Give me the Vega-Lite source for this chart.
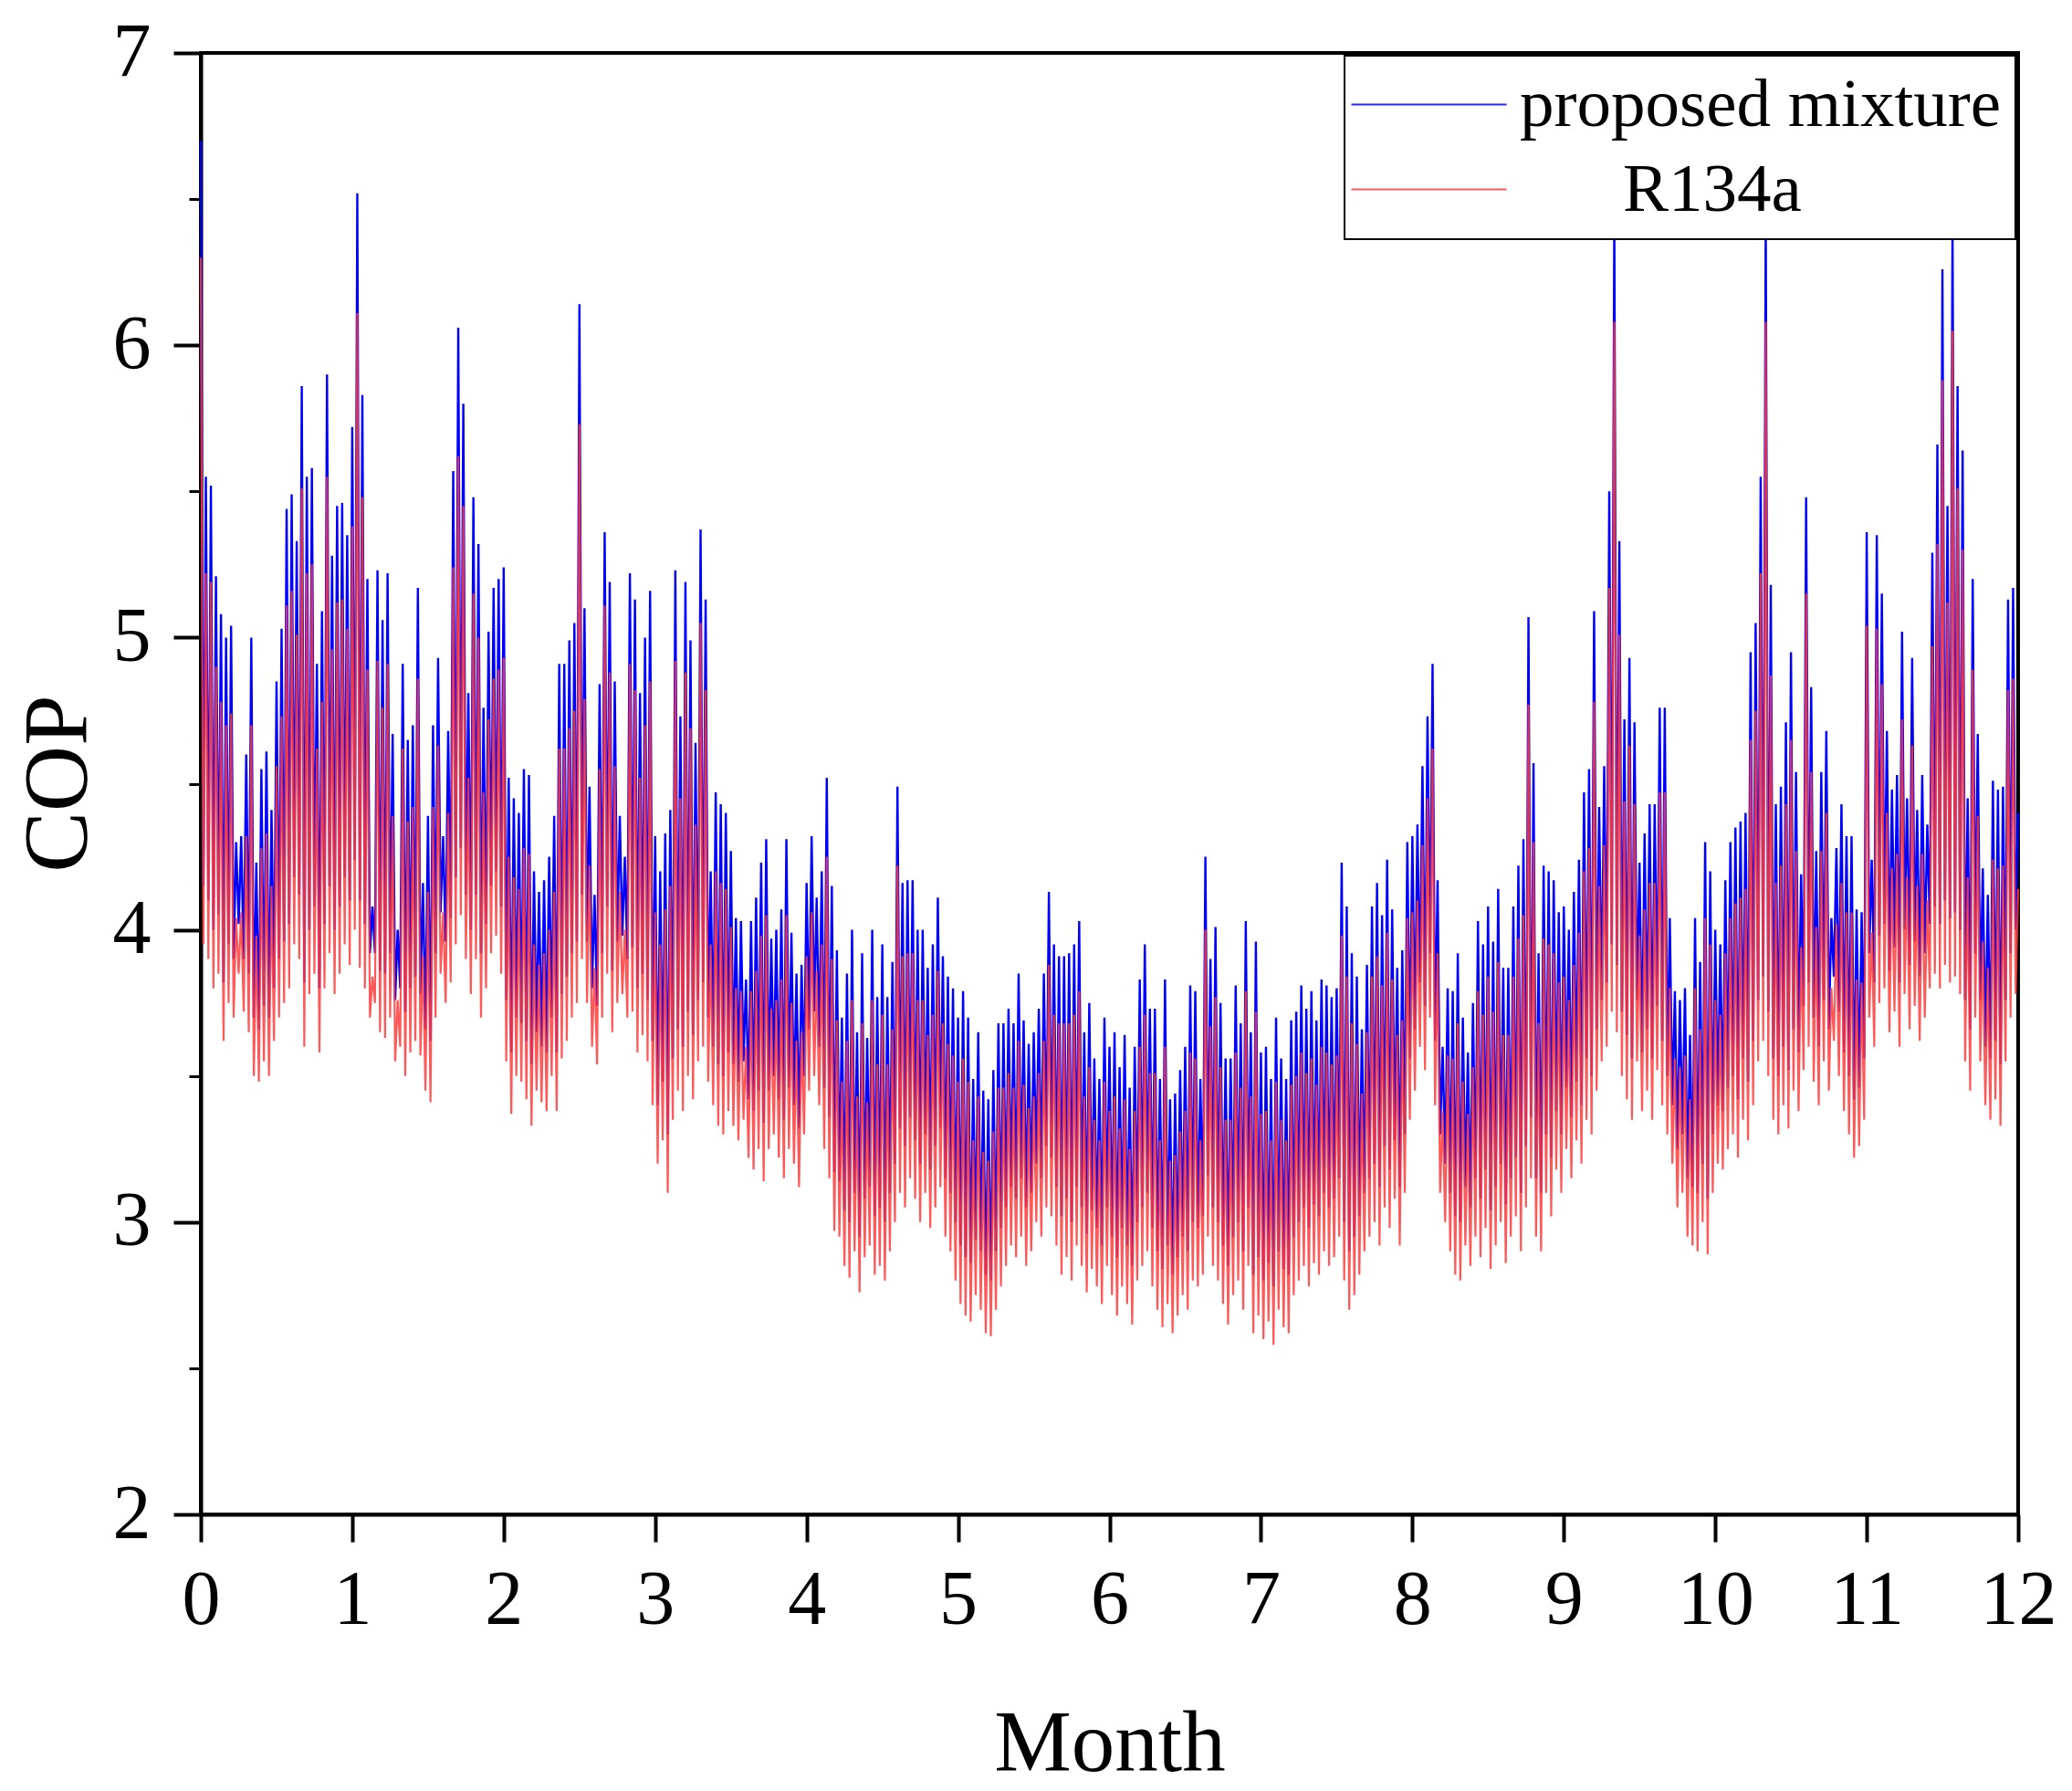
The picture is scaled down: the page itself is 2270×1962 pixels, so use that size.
{
  "$schema": "https://vega.github.io/schema/vega-lite/v6.json",
  "description": "COP over the year, proposed mixture vs R134a",
  "autosize": {"type": "none"},
  "width": 1991,
  "height": 1601,
  "padding": {"left": 220, "top": 58, "right": 59, "bottom": 303},
  "background": "white",
  "data": {"values": [
    {"d":0,"p":6.7,"r":6.3},{"d":0.5,"p":4.15,"r":3.95},
    {"d":1,"p":5.55,"r":5.22},{"d":1.5,"p":4.1,"r":3.9},
    {"d":2,"p":5.52,"r":5.19},{"d":2.5,"p":4.0,"r":3.8},
    {"d":3,"p":5.21,"r":4.9},{"d":3.5,"p":4.05,"r":3.85},
    {"d":4,"p":5.08,"r":4.78},{"d":4.5,"p":3.82,"r":3.62},
    {"d":5,"p":5.0,"r":4.7},{"d":5.5,"p":3.95,"r":3.75},
    {"d":6,"p":5.04,"r":4.74},{"d":6.5,"p":3.9,"r":3.7},
    {"d":7,"p":4.3,"r":4.04},{"d":7.5,"p":4.02,"r":3.85},
    {"d":8,"p":4.32,"r":4.06},{"d":8.5,"p":3.9,"r":3.72},
    {"d":9,"p":4.6,"r":4.32},{"d":9.5,"p":3.85,"r":3.65},
    {"d":10,"p":5.0,"r":4.7},{"d":10.5,"p":3.7,"r":3.5},
    {"d":11,"p":4.23,"r":3.98},{"d":11.5,"p":3.66,"r":3.48},
    {"d":12,"p":4.55,"r":4.28},{"d":12.5,"p":3.74,"r":3.55},
    {"d":13,"p":4.61,"r":4.33},{"d":13.5,"p":3.7,"r":3.5},
    {"d":14,"p":4.41,"r":4.15},{"d":14.5,"p":3.8,"r":3.62},
    {"d":15,"p":4.85,"r":4.56},{"d":15.5,"p":3.9,"r":3.7},
    {"d":16,"p":5.03,"r":4.73},{"d":16.5,"p":3.96,"r":3.75},
    {"d":17,"p":5.44,"r":5.11},{"d":17.5,"p":4.02,"r":3.8},
    {"d":18,"p":5.49,"r":5.16},{"d":18.5,"p":4.18,"r":3.95},
    {"d":19,"p":5.33,"r":5.01},{"d":19.5,"p":4.12,"r":3.9},
    {"d":20,"p":5.86,"r":5.51},{"d":20.5,"p":3.82,"r":3.6},
    {"d":21,"p":5.55,"r":5.22},{"d":21.5,"p":4.0,"r":3.78},
    {"d":22,"p":5.58,"r":5.25},{"d":22.5,"p":4.08,"r":3.85},
    {"d":23,"p":4.91,"r":4.62},{"d":23.5,"p":3.8,"r":3.58},
    {"d":24,"p":5.09,"r":4.78},{"d":24.5,"p":4.02,"r":3.8},
    {"d":25,"p":5.9,"r":5.55},{"d":25.5,"p":4.15,"r":3.92},
    {"d":26,"p":5.28,"r":4.96},{"d":26.5,"p":4.0,"r":3.78},
    {"d":27,"p":5.45,"r":5.12},{"d":27.5,"p":4.08,"r":3.85},
    {"d":28,"p":5.46,"r":5.13},{"d":28.5,"p":4.18,"r":3.95},
    {"d":29,"p":5.35,"r":5.03},{"d":29.5,"p":4.1,"r":3.88},
    {"d":30,"p":5.72,"r":5.38},{"d":30.5,"p":4.24,"r":4.0},
    {"d":31,"p":6.52,"r":6.11},{"d":31.5,"p":4.1,"r":3.87},
    {"d":32,"p":5.83,"r":5.48},{"d":32.5,"p":4.02,"r":3.8},
    {"d":33,"p":5.2,"r":4.89},{"d":33.5,"p":3.92,"r":3.7},
    {"d":34,"p":4.08,"r":3.84},{"d":34.5,"p":3.92,"r":3.75},
    {"d":35,"p":5.23,"r":4.92},{"d":35.5,"p":3.86,"r":3.65},
    {"d":36,"p":5.06,"r":4.76},{"d":36.5,"p":3.85,"r":3.63},
    {"d":37,"p":5.22,"r":4.91},{"d":37.5,"p":3.92,"r":3.7},
    {"d":38,"p":4.67,"r":4.39},{"d":38.5,"p":3.76,"r":3.55},
    {"d":39,"p":4.0,"r":3.76},{"d":39.5,"p":3.8,"r":3.6},
    {"d":40,"p":4.91,"r":4.62},{"d":40.5,"p":3.72,"r":3.5},
    {"d":41,"p":4.65,"r":4.37},{"d":41.5,"p":3.8,"r":3.58},
    {"d":42,"p":4.7,"r":4.42},{"d":42.5,"p":3.84,"r":3.62},
    {"d":43,"p":5.17,"r":4.86},{"d":43.5,"p":3.78,"r":3.57},
    {"d":44,"p":4.16,"r":3.91},{"d":44.5,"p":3.66,"r":3.45},
    {"d":45,"p":4.39,"r":4.13},{"d":45.5,"p":3.62,"r":3.41},
    {"d":46,"p":4.7,"r":4.42},{"d":46.5,"p":3.92,"r":3.7},
    {"d":47,"p":4.93,"r":4.63},{"d":47.5,"p":4.06,"r":3.85},
    {"d":48,"p":4.32,"r":4.06},{"d":48.5,"p":3.96,"r":3.75},
    {"d":49,"p":4.68,"r":4.4},{"d":49.5,"p":4.04,"r":3.82},
    {"d":50,"p":5.57,"r":5.24},{"d":50.5,"p":4.18,"r":3.95},
    {"d":51,"p":6.06,"r":5.62},{"d":51.5,"p":4.28,"r":4.05},
    {"d":52,"p":5.8,"r":5.45},{"d":52.5,"p":4.12,"r":3.9},
    {"d":53,"p":4.81,"r":4.52},{"d":53.5,"p":4.0,"r":3.78},
    {"d":54,"p":5.48,"r":5.15},{"d":54.5,"p":4.12,"r":3.9},
    {"d":55,"p":5.32,"r":5.0},{"d":55.5,"p":3.92,"r":3.7},
    {"d":56,"p":4.76,"r":4.47},{"d":56.5,"p":4.02,"r":3.8},
    {"d":57,"p":5.02,"r":4.72},{"d":57.5,"p":4.15,"r":3.92},
    {"d":58,"p":5.17,"r":4.86},{"d":58.5,"p":4.2,"r":3.98},
    {"d":59,"p":5.2,"r":4.89},{"d":59.5,"p":4.08,"r":3.85},
    {"d":60,"p":5.24,"r":4.93},{"d":60.5,"p":3.76,"r":3.55},
    {"d":61,"p":4.52,"r":4.25},{"d":61.5,"p":3.58,"r":3.37},
    {"d":62,"p":4.45,"r":4.18},{"d":62.5,"p":3.7,"r":3.5},
    {"d":63,"p":4.4,"r":4.14},{"d":63.5,"p":3.68,"r":3.48},
    {"d":64,"p":4.55,"r":4.28},{"d":64.5,"p":3.62,"r":3.42},
    {"d":65,"p":4.53,"r":4.26},{"d":65.5,"p":3.54,"r":3.33},
    {"d":66,"p":4.2,"r":3.95},{"d":66.5,"p":3.65,"r":3.45},
    {"d":67,"p":4.13,"r":3.88},{"d":67.5,"p":3.6,"r":3.41},
    {"d":68,"p":4.17,"r":3.92},{"d":68.5,"p":3.58,"r":3.38},
    {"d":69,"p":4.25,"r":4.0},{"d":69.5,"p":3.7,"r":3.5},
    {"d":70,"p":4.39,"r":4.13},{"d":70.5,"p":3.58,"r":3.38},
    {"d":71,"p":4.91,"r":4.62},{"d":71.5,"p":3.78,"r":3.56},
    {"d":72,"p":4.91,"r":4.62},{"d":72.5,"p":3.84,"r":3.62},
    {"d":73,"p":4.99,"r":4.69},{"d":73.5,"p":3.92,"r":3.7},
    {"d":74,"p":5.05,"r":4.75},{"d":74.5,"p":3.96,"r":3.75},
    {"d":75,"p":6.14,"r":5.73},{"d":75.5,"p":4.12,"r":3.9},
    {"d":76,"p":5.1,"r":4.79},{"d":76.5,"p":3.96,"r":3.75},
    {"d":77,"p":4.49,"r":4.22},{"d":77.5,"p":3.8,"r":3.6},
    {"d":78,"p":4.12,"r":3.87},{"d":78.5,"p":3.74,"r":3.54},
    {"d":79,"p":4.84,"r":4.55},{"d":79.5,"p":3.92,"r":3.7},
    {"d":80,"p":5.36,"r":5.11},{"d":80.5,"p":4.08,"r":3.85},
    {"d":81,"p":5.19,"r":4.88},{"d":81.5,"p":3.86,"r":3.65},
    {"d":82,"p":4.85,"r":4.56},{"d":82.5,"p":3.96,"r":3.75},
    {"d":83,"p":4.39,"r":4.13},{"d":83.5,"p":3.98,"r":3.78},
    {"d":84,"p":4.25,"r":4.0},{"d":84.5,"p":3.9,"r":3.7},
    {"d":85,"p":5.22,"r":4.91},{"d":85.5,"p":3.94,"r":3.72},
    {"d":86,"p":5.13,"r":4.82},{"d":86.5,"p":3.8,"r":3.58},
    {"d":87,"p":4.81,"r":4.52},{"d":87.5,"p":3.85,"r":3.64},
    {"d":88,"p":5.0,"r":4.7},{"d":88.5,"p":3.76,"r":3.55},
    {"d":89,"p":5.16,"r":4.85},{"d":89.5,"p":3.62,"r":3.4},
    {"d":90,"p":4.32,"r":4.06},{"d":90.5,"p":3.4,"r":3.2},
    {"d":91,"p":4.2,"r":3.95},{"d":91.5,"p":3.48,"r":3.28},
    {"d":92,"p":4.33,"r":4.07},{"d":92.5,"p":3.3,"r":3.1},
    {"d":93,"p":4.41,"r":4.15},{"d":93.5,"p":3.56,"r":3.35},
    {"d":94,"p":5.23,"r":4.92},{"d":94.5,"p":3.66,"r":3.45},
    {"d":95,"p":4.73,"r":4.45},{"d":95.5,"p":3.6,"r":3.38},
    {"d":96,"p":5.19,"r":4.88},{"d":96.5,"p":3.72,"r":3.5},
    {"d":97,"p":4.99,"r":4.69},{"d":97.5,"p":3.64,"r":3.42},
    {"d":98,"p":4.64,"r":4.36},{"d":98.5,"p":3.76,"r":3.55},
    {"d":99,"p":5.37,"r":5.05},{"d":99.5,"p":3.82,"r":3.6},
    {"d":100,"p":5.13,"r":4.82},{"d":100.5,"p":3.7,"r":3.48},
    {"d":101,"p":4.2,"r":3.95},{"d":101.5,"p":3.6,"r":3.4},
    {"d":102,"p":4.47,"r":4.2},{"d":102.5,"p":3.54,"r":3.33},
    {"d":103,"p":4.43,"r":4.16},{"d":103.5,"p":3.5,"r":3.3},
    {"d":104,"p":4.4,"r":4.14},{"d":104.5,"p":3.58,"r":3.38},
    {"d":105,"p":4.27,"r":4.01},{"d":105.5,"p":3.54,"r":3.33},
    {"d":106,"p":4.04,"r":3.8},{"d":106.5,"p":3.48,"r":3.28},
    {"d":107,"p":4.03,"r":3.79},{"d":107.5,"p":3.55,"r":3.35},
    {"d":108,"p":3.83,"r":3.6},{"d":108.5,"p":3.42,"r":3.22},
    {"d":109,"p":4.03,"r":3.79},{"d":109.5,"p":3.38,"r":3.18},
    {"d":110,"p":4.11,"r":3.86},{"d":110.5,"p":3.45,"r":3.25},
    {"d":111,"p":4.23,"r":3.98},{"d":111.5,"p":3.34,"r":3.14},
    {"d":112,"p":4.31,"r":4.05},{"d":112.5,"p":3.45,"r":3.25},
    {"d":113,"p":3.97,"r":3.73},{"d":113.5,"p":3.5,"r":3.3},
    {"d":114,"p":4.0,"r":3.76},{"d":114.5,"p":3.42,"r":3.22},
    {"d":115,"p":4.07,"r":3.83},{"d":115.5,"p":3.35,"r":3.15},
    {"d":116,"p":4.31,"r":4.05},{"d":116.5,"p":3.46,"r":3.25},
    {"d":117,"p":3.99,"r":3.75},{"d":117.5,"p":3.4,"r":3.2},
    {"d":118,"p":3.85,"r":3.62},{"d":118.5,"p":3.32,"r":3.12},
    {"d":119,"p":3.88,"r":3.65},{"d":119.5,"p":3.5,"r":3.3},
    {"d":120,"p":4.16,"r":3.91},{"d":120.5,"p":3.66,"r":3.45},
    {"d":121,"p":4.32,"r":4.06},{"d":121.5,"p":3.72,"r":3.5},
    {"d":122,"p":4.11,"r":3.86},{"d":122.5,"p":3.6,"r":3.4},
    {"d":123,"p":4.2,"r":3.95},{"d":123.5,"p":3.46,"r":3.25},
    {"d":124,"p":4.52,"r":4.25},{"d":124.5,"p":3.36,"r":3.15},
    {"d":125,"p":4.15,"r":3.9},{"d":125.5,"p":3.17,"r":2.97},
    {"d":126,"p":3.93,"r":3.69},{"d":126.5,"p":3.14,"r":2.95},
    {"d":127,"p":3.7,"r":3.48},{"d":127.5,"p":3.04,"r":2.85},
    {"d":128,"p":3.85,"r":3.62},{"d":128.5,"p":3.0,"r":2.81},
    {"d":129,"p":4.0,"r":3.76},{"d":129.5,"p":3.1,"r":2.9},
    {"d":130,"p":3.65,"r":3.43},{"d":130.5,"p":2.95,"r":2.76},
    {"d":131,"p":3.92,"r":3.68},{"d":131.5,"p":3.08,"r":2.88},
    {"d":132,"p":3.63,"r":3.41},{"d":132.5,"p":3.12,"r":2.92},
    {"d":133,"p":4.0,"r":3.76},{"d":133.5,"p":3.02,"r":2.82},
    {"d":134,"p":3.77,"r":3.54},{"d":134.5,"p":3.05,"r":2.85},
    {"d":135,"p":3.95,"r":3.71},{"d":135.5,"p":3.0,"r":2.8},
    {"d":136,"p":3.77,"r":3.54},{"d":136.5,"p":3.1,"r":2.9},
    {"d":137,"p":3.89,"r":3.66},{"d":137.5,"p":3.2,"r":3.0},
    {"d":138,"p":4.49,"r":4.22},{"d":138.5,"p":3.32,"r":3.1},
    {"d":139,"p":4.16,"r":3.91},{"d":139.5,"p":3.26,"r":3.05},
    {"d":140,"p":4.17,"r":3.92},{"d":140.5,"p":3.36,"r":3.15},
    {"d":141,"p":4.17,"r":3.92},{"d":141.5,"p":3.28,"r":3.08},
    {"d":142,"p":4.0,"r":3.76},{"d":142.5,"p":3.2,"r":3.0},
    {"d":143,"p":4.0,"r":3.76},{"d":143.5,"p":3.3,"r":3.1},
    {"d":144,"p":3.87,"r":3.64},{"d":144.5,"p":3.18,"r":2.98},
    {"d":145,"p":3.95,"r":3.71},{"d":145.5,"p":3.26,"r":3.05},
    {"d":146,"p":4.11,"r":3.86},{"d":146.5,"p":3.32,"r":3.12},
    {"d":147,"p":3.91,"r":3.68},{"d":147.5,"p":3.15,"r":2.95},
    {"d":148,"p":3.84,"r":3.61},{"d":148.5,"p":3.1,"r":2.9},
    {"d":149,"p":3.8,"r":3.57},{"d":149.5,"p":3.0,"r":2.8},
    {"d":150,"p":3.7,"r":3.48},{"d":150.5,"p":2.92,"r":2.72},
    {"d":151,"p":3.79,"r":3.56},{"d":151.5,"p":2.88,"r":2.68},
    {"d":152,"p":3.7,"r":3.48},{"d":152.5,"p":2.86,"r":2.66},
    {"d":153,"p":3.49,"r":3.28},{"d":153.5,"p":2.94,"r":2.75},
    {"d":154,"p":3.65,"r":3.43},{"d":154.5,"p":2.9,"r":2.7},
    {"d":155,"p":3.45,"r":3.24},{"d":155.5,"p":2.82,"r":2.62},
    {"d":156,"p":3.42,"r":3.21},{"d":156.5,"p":2.8,"r":2.61},
    {"d":157,"p":3.52,"r":3.31},{"d":157.5,"p":2.9,"r":2.7},
    {"d":158,"p":3.68,"r":3.46},{"d":158.5,"p":2.98,"r":2.78},
    {"d":159,"p":3.68,"r":3.46},{"d":159.5,"p":3.05,"r":2.85},
    {"d":160,"p":3.73,"r":3.51},{"d":160.5,"p":3.12,"r":2.92},
    {"d":161,"p":3.68,"r":3.46},{"d":161.5,"p":3.08,"r":2.88},
    {"d":162,"p":3.85,"r":3.62},{"d":162.5,"p":3.15,"r":2.95},
    {"d":163,"p":3.69,"r":3.47},{"d":163.5,"p":3.05,"r":2.85},
    {"d":164,"p":3.61,"r":3.39},{"d":164.5,"p":3.1,"r":2.9},
    {"d":165,"p":3.65,"r":3.43},{"d":165.5,"p":3.2,"r":3.0},
    {"d":166,"p":3.73,"r":3.51},{"d":166.5,"p":3.15,"r":2.95},
    {"d":167,"p":3.85,"r":3.62},{"d":167.5,"p":3.26,"r":3.05},
    {"d":168,"p":4.13,"r":3.88},{"d":168.5,"p":3.22,"r":3.02},
    {"d":169,"p":3.95,"r":3.71},{"d":169.5,"p":3.12,"r":2.92},
    {"d":170,"p":3.91,"r":3.68},{"d":170.5,"p":3.02,"r":2.82},
    {"d":171,"p":3.91,"r":3.68},{"d":171.5,"p":3.08,"r":2.88},
    {"d":172,"p":3.92,"r":3.68},{"d":172.5,"p":3.0,"r":2.8},
    {"d":173,"p":3.95,"r":3.71},{"d":173.5,"p":3.12,"r":2.92},
    {"d":174,"p":4.03,"r":3.79},{"d":174.5,"p":3.05,"r":2.85},
    {"d":175,"p":3.65,"r":3.43},{"d":175.5,"p":2.96,"r":2.76},
    {"d":176,"p":3.75,"r":3.53},{"d":176.5,"p":3.04,"r":2.84},
    {"d":177,"p":3.56,"r":3.35},{"d":177.5,"p":2.98,"r":2.78},
    {"d":178,"p":3.49,"r":3.28},{"d":178.5,"p":2.92,"r":2.72},
    {"d":179,"p":3.7,"r":3.48},{"d":179.5,"p":3.05,"r":2.85},
    {"d":180,"p":3.6,"r":3.38},{"d":180.5,"p":2.95,"r":2.75},
    {"d":181,"p":3.65,"r":3.43},{"d":181.5,"p":2.88,"r":2.68},
    {"d":182,"p":3.53,"r":3.32},{"d":182.5,"p":2.98,"r":2.78},
    {"d":183,"p":3.64,"r":3.42},{"d":183.5,"p":2.92,"r":2.72},
    {"d":184,"p":3.46,"r":3.25},{"d":184.5,"p":2.85,"r":2.65},
    {"d":185,"p":3.6,"r":3.38},{"d":185.5,"p":3.0,"r":2.8},
    {"d":186,"p":3.83,"r":3.6},{"d":186.5,"p":3.05,"r":2.85},
    {"d":187,"p":3.95,"r":3.71},{"d":187.5,"p":3.1,"r":2.9},
    {"d":188,"p":3.73,"r":3.51},{"d":188.5,"p":2.98,"r":2.78},
    {"d":189,"p":3.73,"r":3.51},{"d":189.5,"p":2.9,"r":2.7},
    {"d":190,"p":3.49,"r":3.28},{"d":190.5,"p":2.84,"r":2.64},
    {"d":191,"p":3.83,"r":3.6},{"d":191.5,"p":2.92,"r":2.72},
    {"d":192,"p":3.42,"r":3.21},{"d":192.5,"p":2.82,"r":2.62},
    {"d":193,"p":3.44,"r":3.23},{"d":193.5,"p":2.88,"r":2.68},
    {"d":194,"p":3.52,"r":3.31},{"d":194.5,"p":2.95,"r":2.75},
    {"d":195,"p":3.6,"r":3.38},{"d":195.5,"p":2.9,"r":2.7},
    {"d":196,"p":3.81,"r":3.58},{"d":196.5,"p":3.0,"r":2.8},
    {"d":197,"p":3.79,"r":3.56},{"d":197.5,"p":2.98,"r":2.78},
    {"d":198,"p":3.49,"r":3.28},{"d":198.5,"p":3.02,"r":2.82},
    {"d":199,"p":4.25,"r":4.0},{"d":199.5,"p":3.16,"r":2.95},
    {"d":200,"p":3.9,"r":3.67},{"d":200.5,"p":3.05,"r":2.85},
    {"d":201,"p":4.01,"r":3.77},{"d":201.5,"p":3.0,"r":2.8},
    {"d":202,"p":3.75,"r":3.53},{"d":202.5,"p":2.92,"r":2.72},
    {"d":203,"p":3.56,"r":3.35},{"d":203.5,"p":2.85,"r":2.65},
    {"d":204,"p":3.56,"r":3.35},{"d":204.5,"p":2.95,"r":2.75},
    {"d":205,"p":3.81,"r":3.58},{"d":205.5,"p":3.0,"r":2.8},
    {"d":206,"p":3.68,"r":3.46},{"d":206.5,"p":2.9,"r":2.7},
    {"d":207,"p":4.03,"r":3.79},{"d":207.5,"p":3.05,"r":2.85},
    {"d":208,"p":3.65,"r":3.43},{"d":208.5,"p":2.82,"r":2.62},
    {"d":209,"p":3.96,"r":3.72},{"d":209.5,"p":2.88,"r":2.68},
    {"d":210,"p":3.58,"r":3.37},{"d":210.5,"p":2.8,"r":2.6},
    {"d":211,"p":3.6,"r":3.38},{"d":211.5,"p":2.86,"r":2.66},
    {"d":212,"p":3.49,"r":3.28},{"d":212.5,"p":2.78,"r":2.58},
    {"d":213,"p":3.7,"r":3.48},{"d":213.5,"p":2.9,"r":2.7},
    {"d":214,"p":3.56,"r":3.35},{"d":214.5,"p":2.84,"r":2.64},
    {"d":215,"p":3.49,"r":3.28},{"d":215.5,"p":2.82,"r":2.62},
    {"d":216,"p":3.69,"r":3.47},{"d":216.5,"p":2.95,"r":2.75},
    {"d":217,"p":3.72,"r":3.5},{"d":217.5,"p":3.0,"r":2.8},
    {"d":218,"p":3.81,"r":3.58},{"d":218.5,"p":3.05,"r":2.85},
    {"d":219,"p":3.73,"r":3.51},{"d":219.5,"p":2.98,"r":2.78},
    {"d":220,"p":3.79,"r":3.56},{"d":220.5,"p":3.06,"r":2.86},
    {"d":221,"p":3.69,"r":3.47},{"d":221.5,"p":3.02,"r":2.82},
    {"d":222,"p":3.83,"r":3.6},{"d":222.5,"p":3.1,"r":2.9},
    {"d":223,"p":3.81,"r":3.58},{"d":223.5,"p":3.05,"r":2.85},
    {"d":224,"p":3.77,"r":3.54},{"d":224.5,"p":3.08,"r":2.88},
    {"d":225,"p":3.8,"r":3.57},{"d":225.5,"p":3.15,"r":2.95},
    {"d":226,"p":4.23,"r":3.98},{"d":226.5,"p":3.0,"r":2.8},
    {"d":227,"p":4.08,"r":3.84},{"d":227.5,"p":2.9,"r":2.7},
    {"d":228,"p":3.92,"r":3.68},{"d":228.5,"p":2.95,"r":2.75},
    {"d":229,"p":3.84,"r":3.61},{"d":229.5,"p":3.02,"r":2.82},
    {"d":230,"p":3.66,"r":3.44},{"d":230.5,"p":3.1,"r":2.9},
    {"d":231,"p":3.88,"r":3.65},{"d":231.5,"p":3.15,"r":2.95},
    {"d":232,"p":4.08,"r":3.84},{"d":232.5,"p":3.2,"r":3.0},
    {"d":233,"p":4.16,"r":3.91},{"d":233.5,"p":3.12,"r":2.92},
    {"d":234,"p":4.05,"r":3.81},{"d":234.5,"p":3.26,"r":3.05},
    {"d":235,"p":4.24,"r":3.99},{"d":235.5,"p":3.18,"r":2.98},
    {"d":236,"p":4.07,"r":3.83},{"d":236.5,"p":3.28,"r":3.08},
    {"d":237,"p":3.87,"r":3.64},{"d":237.5,"p":3.12,"r":2.92},
    {"d":238,"p":3.93,"r":3.69},{"d":238.5,"p":3.3,"r":3.1},
    {"d":239,"p":4.3,"r":4.04},{"d":239.5,"p":3.56,"r":3.35},
    {"d":240,"p":4.32,"r":4.06},{"d":240.5,"p":3.66,"r":3.45},
    {"d":241,"p":4.36,"r":4.1},{"d":241.5,"p":3.82,"r":3.6},
    {"d":242,"p":4.56,"r":4.29},{"d":242.5,"p":3.74,"r":3.52},
    {"d":243,"p":4.73,"r":4.45},{"d":243.5,"p":3.92,"r":3.7},
    {"d":244,"p":4.91,"r":4.62},{"d":244.5,"p":3.62,"r":3.4},
    {"d":245,"p":4.17,"r":3.92},{"d":245.5,"p":3.3,"r":3.1},
    {"d":246,"p":3.6,"r":3.38},{"d":246.5,"p":3.2,"r":3.0},
    {"d":247,"p":3.8,"r":3.57},{"d":247.5,"p":3.1,"r":2.9},
    {"d":248,"p":3.79,"r":3.56},{"d":248.5,"p":3.02,"r":2.82},
    {"d":249,"p":3.92,"r":3.68},{"d":249.5,"p":3.0,"r":2.8},
    {"d":250,"p":3.7,"r":3.48},{"d":250.5,"p":3.12,"r":2.92},
    {"d":251,"p":3.58,"r":3.37},{"d":251.5,"p":3.05,"r":2.85},
    {"d":252,"p":3.75,"r":3.53},{"d":252.5,"p":3.15,"r":2.95},
    {"d":253,"p":4.03,"r":3.79},{"d":253.5,"p":3.08,"r":2.88},
    {"d":254,"p":3.95,"r":3.71},{"d":254.5,"p":3.18,"r":2.98},
    {"d":255,"p":4.08,"r":3.84},{"d":255.5,"p":3.04,"r":2.84},
    {"d":256,"p":3.96,"r":3.72},{"d":256.5,"p":3.12,"r":2.92},
    {"d":257,"p":4.14,"r":3.89},{"d":257.5,"p":3.2,"r":3.0},
    {"d":258,"p":3.87,"r":3.64},{"d":258.5,"p":3.06,"r":2.86},
    {"d":259,"p":3.87,"r":3.64},{"d":259.5,"p":3.15,"r":2.95},
    {"d":260,"p":4.08,"r":3.84},{"d":260.5,"p":3.22,"r":3.02},
    {"d":261,"p":4.22,"r":3.97},{"d":261.5,"p":3.1,"r":2.9},
    {"d":262,"p":4.31,"r":4.05},{"d":262.5,"p":3.26,"r":3.05},
    {"d":263,"p":5.07,"r":4.77},{"d":263.5,"p":3.36,"r":3.15},
    {"d":264,"p":4.57,"r":4.3},{"d":264.5,"p":3.15,"r":2.95},
    {"d":265,"p":3.92,"r":3.68},{"d":265.5,"p":3.1,"r":2.9},
    {"d":266,"p":4.22,"r":3.97},{"d":266.5,"p":3.3,"r":3.1},
    {"d":267,"p":4.2,"r":3.95},{"d":267.5,"p":3.22,"r":3.02},
    {"d":268,"p":4.17,"r":3.92},{"d":268.5,"p":3.38,"r":3.18},
    {"d":269,"p":4.06,"r":3.82},{"d":269.5,"p":3.3,"r":3.1},
    {"d":270,"p":4.08,"r":3.84},{"d":270.5,"p":3.46,"r":3.25},
    {"d":271,"p":4.0,"r":3.76},{"d":271.5,"p":3.36,"r":3.15},
    {"d":272,"p":4.13,"r":3.88},{"d":272.5,"p":3.48,"r":3.28},
    {"d":273,"p":4.24,"r":3.99},{"d":273.5,"p":3.4,"r":3.2},
    {"d":274,"p":4.47,"r":4.2},{"d":274.5,"p":3.56,"r":3.35},
    {"d":275,"p":4.55,"r":4.28},{"d":275.5,"p":3.5,"r":3.3},
    {"d":276,"p":5.09,"r":4.78},{"d":276.5,"p":3.66,"r":3.45},
    {"d":277,"p":4.42,"r":4.15},{"d":277.5,"p":3.76,"r":3.55},
    {"d":278,"p":4.56,"r":4.29},{"d":278.5,"p":3.82,"r":3.6},
    {"d":279,"p":5.5,"r":5.17},{"d":279.5,"p":3.95,"r":3.72},
    {"d":280,"p":6.45,"r":6.08},{"d":280.5,"p":3.88,"r":3.65},
    {"d":281,"p":5.33,"r":5.01},{"d":281.5,"p":3.72,"r":3.5},
    {"d":282,"p":4.72,"r":4.44},{"d":282.5,"p":3.64,"r":3.42},
    {"d":283,"p":4.93,"r":4.63},{"d":283.5,"p":3.56,"r":3.35},
    {"d":284,"p":4.71,"r":4.43},{"d":284.5,"p":3.76,"r":3.55},
    {"d":285,"p":4.23,"r":3.98},{"d":285.5,"p":3.58,"r":3.38},
    {"d":286,"p":4.33,"r":4.07},{"d":286.5,"p":3.66,"r":3.45},
    {"d":287,"p":4.43,"r":4.16},{"d":287.5,"p":3.56,"r":3.35},
    {"d":288,"p":4.43,"r":4.16},{"d":288.5,"p":3.74,"r":3.52},
    {"d":289,"p":4.76,"r":4.47},{"d":289.5,"p":3.62,"r":3.4},
    {"d":290,"p":4.76,"r":4.47},{"d":290.5,"p":3.5,"r":3.3},
    {"d":291,"p":4.04,"r":3.8},{"d":291.5,"p":3.4,"r":3.2},
    {"d":292,"p":3.79,"r":3.56},{"d":292.5,"p":3.25,"r":3.05},
    {"d":293,"p":3.76,"r":3.53},{"d":293.5,"p":3.3,"r":3.1},
    {"d":294,"p":3.8,"r":3.57},{"d":294.5,"p":3.15,"r":2.95},
    {"d":295,"p":3.64,"r":3.42},{"d":295.5,"p":3.12,"r":2.92},
    {"d":296,"p":4.04,"r":3.8},{"d":296.5,"p":3.1,"r":2.9},
    {"d":297,"p":3.89,"r":3.66},{"d":297.5,"p":3.2,"r":3.0},
    {"d":298,"p":4.3,"r":4.04},{"d":298.5,"p":3.08,"r":2.89},
    {"d":299,"p":4.2,"r":3.95},{"d":299.5,"p":3.3,"r":3.1},
    {"d":300,"p":4.0,"r":3.76},{"d":300.5,"p":3.4,"r":3.2},
    {"d":301,"p":3.95,"r":3.71},{"d":301.5,"p":3.38,"r":3.18},
    {"d":302,"p":4.17,"r":3.92},{"d":302.5,"p":3.46,"r":3.25},
    {"d":303,"p":4.3,"r":4.04},{"d":303.5,"p":3.5,"r":3.3},
    {"d":304,"p":4.35,"r":4.09},{"d":304.5,"p":3.42,"r":3.22},
    {"d":305,"p":4.37,"r":4.11},{"d":305.5,"p":3.56,"r":3.35},
    {"d":306,"p":4.4,"r":4.14},{"d":306.5,"p":3.48,"r":3.28},
    {"d":307,"p":4.95,"r":4.65},{"d":307.5,"p":3.62,"r":3.4},
    {"d":308,"p":5.05,"r":4.75},{"d":308.5,"p":3.76,"r":3.55},
    {"d":309,"p":5.55,"r":5.22},{"d":309.5,"p":3.84,"r":3.62},
    {"d":310,"p":6.45,"r":6.08},{"d":310.5,"p":3.72,"r":3.5},
    {"d":311,"p":5.18,"r":4.87},{"d":311.5,"p":3.56,"r":3.35},
    {"d":312,"p":4.43,"r":4.16},{"d":312.5,"p":3.5,"r":3.3},
    {"d":313,"p":4.49,"r":4.22},{"d":313.5,"p":3.6,"r":3.4},
    {"d":314,"p":4.71,"r":4.43},{"d":314.5,"p":3.52,"r":3.32},
    {"d":315,"p":4.95,"r":4.65},{"d":315.5,"p":3.66,"r":3.45},
    {"d":316,"p":4.54,"r":4.27},{"d":316.5,"p":3.58,"r":3.38},
    {"d":317,"p":4.19,"r":3.94},{"d":317.5,"p":3.74,"r":3.52},
    {"d":318,"p":5.48,"r":5.15},{"d":318.5,"p":3.82,"r":3.6},
    {"d":319,"p":4.83,"r":4.54},{"d":319.5,"p":3.7,"r":3.48},
    {"d":320,"p":4.27,"r":4.01},{"d":320.5,"p":3.6,"r":3.4},
    {"d":321,"p":4.54,"r":4.27},{"d":321.5,"p":3.76,"r":3.55},
    {"d":322,"p":4.68,"r":4.4},{"d":322.5,"p":3.66,"r":3.45},
    {"d":323,"p":4.04,"r":3.8},{"d":323.5,"p":3.84,"r":3.62},
    {"d":324,"p":4.28,"r":4.02},{"d":324.5,"p":3.72,"r":3.5},
    {"d":325,"p":4.43,"r":4.16},{"d":325.5,"p":3.58,"r":3.38},
    {"d":326,"p":4.32,"r":4.06},{"d":326.5,"p":3.5,"r":3.3},
    {"d":327,"p":4.32,"r":4.06},{"d":327.5,"p":3.42,"r":3.22},
    {"d":328,"p":4.07,"r":3.83},{"d":328.5,"p":3.46,"r":3.26},
    {"d":329,"p":4.06,"r":3.82},{"d":329.5,"p":3.56,"r":3.35},
    {"d":330,"p":5.36,"r":5.04},{"d":330.5,"p":3.92,"r":3.7},
    {"d":331,"p":4.24,"r":3.99},{"d":331.5,"p":3.82,"r":3.6},
    {"d":332,"p":5.35,"r":5.03},{"d":332.5,"p":3.98,"r":3.75},
    {"d":333,"p":5.15,"r":4.84},{"d":333.5,"p":4.02,"r":3.8},
    {"d":334,"p":4.68,"r":4.4},{"d":334.5,"p":3.86,"r":3.65},
    {"d":335,"p":4.48,"r":4.21},{"d":335.5,"p":3.94,"r":3.72},
    {"d":336,"p":4.53,"r":4.26},{"d":336.5,"p":3.82,"r":3.6},
    {"d":337,"p":5.02,"r":4.72},{"d":337.5,"p":4.0,"r":3.78},
    {"d":338,"p":4.45,"r":4.18},{"d":338.5,"p":3.88,"r":3.66},
    {"d":339,"p":4.93,"r":4.63},{"d":339.5,"p":3.96,"r":3.74},
    {"d":340,"p":4.41,"r":4.15},{"d":340.5,"p":3.84,"r":3.62},
    {"d":341,"p":4.53,"r":4.26},{"d":341.5,"p":3.92,"r":3.7},
    {"d":342,"p":4.36,"r":4.1},{"d":342.5,"p":4.02,"r":3.8},
    {"d":343,"p":5.29,"r":4.97},{"d":343.5,"p":4.08,"r":3.85},
    {"d":344,"p":5.66,"r":5.32},{"d":344.5,"p":4.02,"r":3.8},
    {"d":345,"p":6.26,"r":5.88},{"d":345.5,"p":4.1,"r":3.88},
    {"d":346,"p":5.45,"r":5.12},{"d":346.5,"p":4.04,"r":3.82},
    {"d":347,"p":6.42,"r":6.05},{"d":347.5,"p":4.06,"r":3.84},
    {"d":348,"p":5.86,"r":5.51},{"d":348.5,"p":4.0,"r":3.78},
    {"d":349,"p":5.64,"r":5.3},{"d":349.5,"p":3.76,"r":3.55},
    {"d":350,"p":4.45,"r":4.18},{"d":350.5,"p":3.66,"r":3.45},
    {"d":351,"p":5.2,"r":4.89},{"d":351.5,"p":3.92,"r":3.7},
    {"d":352,"p":4.67,"r":4.39},{"d":352.5,"p":3.76,"r":3.55},
    {"d":353,"p":4.21,"r":3.96},{"d":353.5,"p":3.6,"r":3.4},
    {"d":354,"p":4.12,"r":3.87},{"d":354.5,"p":3.56,"r":3.35},
    {"d":355,"p":4.51,"r":4.24},{"d":355.5,"p":3.62,"r":3.42},
    {"d":356,"p":4.48,"r":4.21},{"d":356.5,"p":3.54,"r":3.33},
    {"d":357,"p":4.49,"r":4.22},{"d":357.5,"p":3.76,"r":3.55},
    {"d":358,"p":5.13,"r":4.82},{"d":358.5,"p":3.92,"r":3.7},
    {"d":359,"p":5.17,"r":4.86},{"d":359.5,"p":4.0,"r":3.78},
    {"d":360,"p":4.4,"r":4.14}
  ]},
  "layer": [
    {
      "mark": {"type": "line", "strokeWidth": 2.4, "interpolate": "linear"},
      "encoding": {
        "x": {
          "field": "d", "type": "quantitative",
          "scale": {"domain": [0, 360], "nice": false, "zero": false},
          "axis": {
            "values": [0, 30, 60, 90, 120, 150, 180, 210, 240, 270, 300, 330, 360],
            "labelExpr": "datum.value / 30",
            "title": "Month",
            "titleFontSize": 95,
            "titleBaseline": "alphabetic",
            "titleY": 280,
            "labelFontSize": 84,
            "labelPadding": 23,
            "tickSize": 30,
            "labelFlush": false,
            "labelOverlap": false
          }
        },
        "y": {
          "field": "p", "type": "quantitative",
          "scale": {"domain": [2, 7], "nice": false, "zero": false},
          "axis": {
            "orient": "left",
            "values": [2, 3, 4, 5, 6, 7],
            "title": "COP",
            "titleFontSize": 100,
            "titleAngle": -90,
            "titleAlign": "center",
            "titleBaseline": "alphabetic",
            "titleX": -127,
            "titleY": 800,
            "labelFontSize": 84,
            "labelPadding": 25,
            "tickSize": 30,
            "labelFlush": false,
            "labelOverlap": false
          }
        },
        "color": {
          "datum": "proposed mixture", "type": "nominal",
          "scale": {"domain": ["proposed mixture", "R134a"], "range": ["#0000ff", "#ff3b3b"]},
          "legend": {
            "title": null,
            "orient": "top-right",
            "offset": 3,
            "zindex": 1,
            "fillColor": "white",
            "strokeColor": "black",
            "padding": 16,
            "rowPadding": 17,
            "labelFont": "Liberation Serif",
            "labelFontSize": 75,
            "labelColor": "black",
            "labelLimit": 0,
            "labelOffset": {"expr": "datum && datum.value == 'R134a' ? 175 : 62"},
            "symbolType": "M-5,0H5",
            "symbolSize": 1156,
            "symbolOffset": 39,
            "symbolStrokeWidth": 2
          }
        }
      }
    },
    {
      "mark": {"type": "line", "strokeWidth": 2.2, "opacity": 0.85, "interpolate": "linear"},
      "encoding": {
        "x": {"field": "d", "type": "quantitative"},
        "y": {
          "field": "r", "type": "quantitative",
          "axis": {
            "orient": "left",
            "values": [2.5, 3.5, 4.5, 5.5, 6.5],
            "labels": false,
            "domain": false,
            "title": null,
            "tickSize": 13,
            "tickWidth": 3
          }
        },
        "color": {"datum": "R134a", "type": "nominal"}
      }
    }
  ],
  "resolve": {"axis": {"y": "independent"}},
  "config": {
    "view": {"stroke": "black", "strokeWidth": 4},
    "legend": {"strokeWidth": 2},
    "axis": {
      "labelFont": "Liberation Serif",
      "titleFont": "Liberation Serif",
      "labelColor": "black",
      "titleColor": "black",
      "titleFontWeight": "normal",
      "domainColor": "black",
      "domainWidth": 4,
      "tickColor": "black",
      "tickWidth": 4,
      "grid": false
    }
  }
}
